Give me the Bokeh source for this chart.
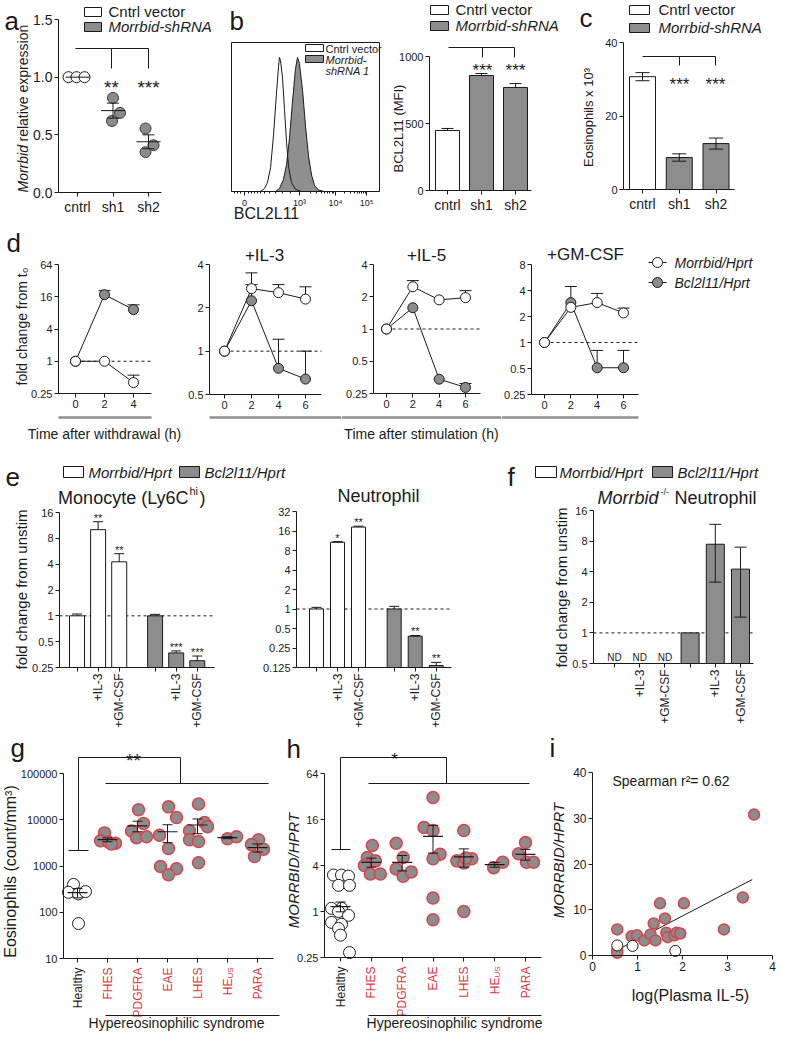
import math
from bokeh.plotting import figure
from bokeh.models import Range1d, FixedTicker, LinearAxis, LogAxis, LogScale
from bokeh.layouts import row, column
from bokeh.embed import file_html
from bokeh.resources import INLINE
from bokeh.core.properties import value

FONT = "Liberation Sans"
INK = "#1a1a1a"
GREY = "#8c8c8c"
RED_TXT = "#e0353d"
RED_EDGE = "#d8434c"
PI2 = math.pi / 2

# ======================= DATA =======================
# (a) Morrbid relative expression
a_groups = ["cntrl", "sh1", "sh2"]
a_points = [[1.0, 1.0, 1.0], [0.82, 0.69, 0.62], [0.555, 0.41, 0.35]]
a_mean = [1.0, 0.71, 0.44]
a_sem = [0.0, 0.065, 0.06]
# (b) flow histogram (x in display units of the biexponential axis, y in % of max)
hist_tick_labels = ["0", "10³", "10⁴", "10⁵"]
hist_cntrl_x = [19.6, 22.3, 24.3, 26.4, 28.4, 30.4, 31.8, 32.4, 33.1, 34.5, 35.8, 37.2, 38.5, 40.5, 43.2, 47.3]
hist_cntrl_y = [0, 2, 6, 16, 38, 66, 84, 90, 88, 76, 55, 33, 17, 6, 1.5, 0]
hist_sh_x = [29.7, 32.4, 35.1, 37.2, 39.2, 41.2, 43.2, 44.6, 45.9, 48.0, 50.0, 52.0, 54.1, 56.1, 58.8, 62.8]
hist_sh_y = [0, 2, 8, 18, 36, 60, 82, 90, 86, 68, 44, 24, 11, 4, 1, 0]
# (b) BCL2L11 MFI
b_groups = ["cntrl", "sh1", "sh2"]
b_mfi = [448, 858, 769]
b_mfi_err = [15, 15, 29]
# (c) eosinophils x 10^3
c_groups = ["cntrl", "sh1", "sh2"]
c_eos = [30.7, 8.7, 12.5]
c_eos_err = [1.1, 1.0, 1.5]
# (d) fold change time courses
d_time_wd = [0, 2, 4]
d_wd_morrbid = [1.0, 1.0, 0.40]
d_wd_morrbid_hi = [1.0, 1.0, 0.55]
d_wd_bcl = [1.0, 17.5, 9.2]
d_wd_bcl_hi = [1.0, 20.8, 11.3]
d_time_st = [0, 2, 4, 6]
d_il3_morrbid = [1.0, 2.72, 2.55, 2.30]
d_il3_morrbid_hi = [1.0, 2.9, 2.9, 2.8]
d_il3_bcl = [1.0, 2.24, 0.76, 0.64]
d_il3_bcl_hi = [1.0, 3.5, 1.21, 1.0]
d_il5_morrbid = [1.0, 2.48, 1.87, 1.96]
d_il5_morrbid_hi = [1.0, 2.83, 1.87, 2.28]
d_il5_bcl = [1.0, 1.58, 0.34, 0.285]
d_il5_bcl_hi = [1.0, 1.58, 0.34, 0.31]
d_gm_morrbid = [1.0, 2.55, 2.9, 2.2]
d_gm_morrbid_hi = [1.0, 2.55, 3.7, 2.5]
d_gm_bcl = [1.0, 2.9, 0.51, 0.51]
d_gm_bcl_hi = [1.0, 4.45, 0.81, 0.81]
# (e) monocyte / neutrophil
e_conditions = ["", "+IL-3", "+GM-CSF"]
e_mono_morrbid = [1.0, 10.1, 4.26]
e_mono_morrbid_hi = [1.05, 12.5, 5.3]
e_mono_bcl = [1.0, 0.37, 0.30]
e_mono_bcl_hi = [1.04, 0.39, 0.34]
e_neut_morrbid = [1.0, 10.7, 18.4]
e_neut_morrbid_hi = [1.06, 11.0, 19.0]
e_neut_bcl = [1.0, 0.38, 0.134]
e_neut_bcl_hi = [1.1, 0.39, 0.15]
e_mono_stars = ["", "**", "**", "", "***", "***"]
e_neut_stars = ["", "*", "**", "", "**", "**"]
# (f) Morrbid-/- neutrophil
f_conditions = ["", "+IL-3", "+GM-CSF"]
f_morrbid_text = ["ND", "ND", "ND"]
f_bcl = [1.0, 7.45, 4.24]
f_bcl_hi = [1.0, 11.7, 6.97]
f_bcl_lo = [1.0, 3.16, 1.43]
# (g) eosinophil counts
g_groups = ["Healthy", "FHES", "PDGFRA", "EAE", "LHES", "HE", "PARA"]
g_subscripts = {5: "US"}
g_vals = [
    [400, 270, 250, 280, 57],
    [5200, 3500, 3300, 3100, 3000],
    [16500, 8300, 5700, 4100, 4300],
    [19000, 11200, 4600, 2400, 980, 870, 650],
    [22000, 8700, 7100, 5800, 3700, 3400, 1180],
    [3900, 4300],
    [3700, 2900, 2300, 1600],
]
g_mean = [265, 3700, 7400, 5500, 7700, 4100, 2500]
g_sem = [60, 350, 1900, 2300, 2700, 200, 500]
# (h) MORRBID/HPRT
h_groups = g_groups
h_vals = [
    [3.0, 3.0, 2.9, 2.2, 2.2, 1.1, 1.1, 1.0, 0.89, 0.72, 0.68, 0.6, 0.49, 0.29],
    [7.3, 5.1, 4.6, 4.0, 3.1, 3.1],
    [7.8, 5.1, 3.6, 2.9, 3.3],
    [31, 12.6, 11.5, 5.6, 4.9, 1.5, 0.78],
    [11.5, 4.9, 4.6, 4.3, 5.0, 1.0],
    [3.75, 4.4],
    [8.0, 5.7, 4.4, 4.4],
]
h_mean = [1.16, 4.4, 4.4, 9.6, 5.2, 4.1, 5.6]
h_sem = [0.17, 0.6, 1.0, 3.8, 1.4, 0.3, 0.9]
# (i) correlation
i_hes_il5 = [3.59, 3.34, 2.92, 1.50, 2.03, 0.55, 0.55, 0.55, 0.87, 0.99, 1.15, 1.29, 1.36, 1.40,
             1.61, 1.64, 1.67, 1.82, 1.87, 1.95]
i_hes_morrbid = [30.8, 12.7, 5.7, 11.4, 11.4, 5.7, 1.1, 0.6, 4.2, 4.4, 3.3, 4.6, 7.0, 3.3,
                 8.1, 5.0, 4.0, 4.4, 5.0, 4.8]
i_healthy_il5 = [0.55, 0.89, 1.84]
i_healthy_morrbid = [2.2, 2.1, 1.0]
i_fit_x = [0.53, 3.55]
i_fit_y = [1.1, 16.6]

# ======================= LAYOUT (jitter in px, positions) =======================
a_jitter_px = [[-9, -1, 7], [0, 7, -1], [-3, 5, -3]]
g_jitter_px = [[-4, -9, 1, 8, 1], [-3, -7, 1, 8, 4], [1, 6, -6, -1, 9],
               [1, 9, -8, 1, -7, 9, 1], [1, 7, 10, -8, -8, 1, 1], [0, 9], [1, -6, 6, -3]]
h_jitter_px = [[-7, 1, 8, -2, 9, -9, 1, -2, 8, -9, 1, -2, 0, 9], [1, -4, 4, -7, -1, 9],
               [-6, 1, -6, 1, 9], [0, -9, 0, 7, 0, 0, 0], [0, 8, -7, 0, 2, 0], [-1, 8], [0, -7, 1, 8]]
e_pos = [0, 1, 2, 3.7, 4.7, 5.7]
f_pos = [0, 1, 2, 3, 4, 5]


class Cal:
    """maps reference-pixel position <-> data value (linear or log)"""
    def __init__(self, pa, va, pb, vb, log=None):
        self.log = log
        self.pa = pa
        self.ta = self._f(va)
        self.k = (self._f(vb) - self.ta) / (pb - pa)

    def _f(self, v):
        return math.log(v, self.log) if self.log else v

    def __call__(self, p):
        t = self.ta + (p - self.pa) * self.k
        return self.log ** t if self.log else t

    def px(self, v):
        return self.pa + (self._f(v) - self.ta) / self.k

    def w(self, npx):
        return abs(self.k) * npx


class Pn:
    def __init__(self, L, T, R, B, xc, yc):
        self.xc, self.yc = xc, yc
        p = figure(width=R - L, height=B - T,
                   x_range=Range1d(xc(L), xc(R)), y_range=Range1d(yc(B), yc(T)),
                   y_axis_type="log" if yc.log else "linear",
                   toolbar_location=None, output_backend="svg", min_border=0)
        if p.title is not None:
            p.title.visible = False
        p.xgrid.visible = False
        p.ygrid.visible = False
        p.outline_line_color = None
        self.p = p

    def text(self, x, y, s, size, align="center", base="middle", angle=0, style="normal", color=INK):
        self.p.text(x=[self.xc(x)], y=[self.yc(y)], text=[s], text_font=value(FONT),
                    text_font_size=f"{size}px", text_align=align, text_baseline=base,
                    angle=angle, text_font_style=style, text_color=color)

    def seg(self, segs, color=INK, width=1.0, dash="solid"):
        self.p.segment(x0=[self.xc(s[0]) for s in segs], y0=[self.yc(s[1]) for s in segs],
                       x1=[self.xc(s[2]) for s in segs], y1=[self.yc(s[3]) for s in segs],
                       line_color=color, line_width=width, line_dash=dash)

    def box(self, x0, y0, x1, y1, fill):
        self.p.quad(left=[self.xc(x0)], right=[self.xc(x1)], top=[self.yc(y0)], bottom=[self.yc(y1)],
                    fill_color=fill, line_color=INK, line_width=1)


def style(ax, loc, bounds, ticks, labels, size, minor=None, orient=None):
    ax.fixed_location = loc
    ax.bounds = bounds
    ax.ticker = FixedTicker(ticks=list(ticks), minor_ticks=list(minor or []))
    ax.major_label_overrides = {t: l for t, l in zip(ticks, labels)}
    ax.axis_line_color = INK
    ax.axis_line_width = 1
    ax.major_tick_line_color = INK
    ax.major_tick_in = 0
    ax.major_tick_out = 4
    ax.minor_tick_line_color = INK if minor else None
    ax.minor_tick_in = 0
    ax.minor_tick_out = 2
    ax.major_label_standoff = 2
    ax.major_label_text_font = FONT
    ax.major_label_text_font_size = f"{size}px"
    ax.major_label_text_color = INK
    if orient is not None:
        ax.major_label_orientation = orient


def whiskers(p, xs, lo, hi, cap, both=False, **kw):
    idx = [i for i in range(len(xs)) if hi[i] > lo[i]]
    X = [xs[i] for i in idx]
    p.segment(x0=X, y0=[lo[i] for i in idx], x1=X, y1=[hi[i] for i in idx], line_color=INK, line_width=1, **kw)
    p.segment(x0=[x - cap for x in X], y0=[hi[i] for i in idx], x1=[x + cap for x in X],
              y1=[hi[i] for i in idx], line_color=INK, line_width=1, **kw)
    if both:
        p.segment(x0=[x - cap for x in X], y0=[lo[i] for i in idx], x1=[x + cap for x in X],
                  y1=[lo[i] for i in idx], line_color=INK, line_width=1, **kw)


# ======================= ROW 1 =======================
# ---- a ----
A = Pn(4, 5, 225, 230, Cal(81, 0, 152, 2), Cal(197, 0, 24, 1.5))
p, xc, yc = A.p, A.xc, A.yc
style(p.yaxis[0], xc(62), (0, 1.5), [0, 0.5, 1, 1.5], ["0.0", "0.5", "1.0", "1.5"], 14)
style(p.xaxis[0], 0, (xc(62), xc(165)), [0, 1, 2], a_groups, 14)
for i, pts in enumerate(a_points):
    xs = [i + xc.w(j) for j in a_jitter_px[i]]
    p.scatter(xs, pts, size=11, marker="circle", fill_color="white" if i == 0 else GREY,
              line_color=INK if i == 0 else "#3a3a3a", line_width=1)
hw, cw = xc.w(12), xc.w(6)
idx = [0, 1, 2]
p.segment(x0=[i - hw for i in idx], y0=a_mean, x1=[i + hw for i in idx], y1=a_mean, line_color=INK)
whiskers(p, idx, [m - s for m, s in zip(a_mean, a_sem)], [m + s for m, s in zip(a_mean, a_sem)], cw, both=True)
A.box(88, 12, 105, 21, "white")
A.box(88, 27, 105, 36, GREY)
A.text(112, 16, "Cntrl vector", 15, align="left")
A.text(112, 31, "Morrbid-shRNA", 15, align="left", style="italic")
A.seg([(79, 53, 152, 53), (115, 53, 115, 73), (152, 53, 152, 73)])
A.text(115, 92, "**", 19, base="alphabetic")
A.text(152, 92, "***", 19, base="alphabetic")
A.text(8, 25, "a", 26, align="left", base="alphabetic")
A.text(26, 197, "Morrbid", 14, align="left", angle=PI2, style="italic")
A.text(26, 146, "relative expression", 14, align="left", angle=PI2)

# ---- b histogram ----
BH = Pn(225, 5, 390, 230, Cal(235, 0, 383, 100), Cal(196, 0, 47, 100))
p, xc, yc = BH.p, BH.xc, BH.yc
ht = [xc(v) for v in (248, 303, 339, 370)]
minor = [xc(v) for v in (238, 241, 244, 252, 255, 258, 261, 264, 268, 273, 279, 286, 294)]
for a_, b_ in ((303, 339), (339, 370)):
    minor += [xc(a_ + (b_ - a_) * math.log10(k)) for k in range(2, 10)]
style(p.xaxis[0], 0, (0, 100), ht, hist_tick_labels, 9, minor)
p.yaxis[0].visible = False
p.varea(x=hist_cntrl_x, y1=[0] * len(hist_cntrl_x), y2=hist_cntrl_y, fill_color="white")
p.varea(x=hist_sh_x, y1=[0] * len(hist_sh_x), y2=hist_sh_y, fill_color="#8f8f8f")
p.line(hist_cntrl_x, hist_cntrl_y, line_color=INK, line_width=1)
p.line(hist_sh_x, hist_sh_y, line_color=INK, line_width=1)
p.quad(left=[0], right=[100], bottom=[0], top=[100], fill_color=None, line_color=INK, line_width=1)
BH.box(309, 49, 327, 56, "white")
BH.box(309, 60, 327, 67, GREY)
BH.text(329, 53, "Cntrl vector", 11, align="left")
BH.text(329, 64, "Morrbid-", 11, align="left", style="italic")
BH.text(329, 75, "shRNA 1", 11, align="left", style="italic")
BH.text(270, 218, "BCL2L11", 16)
BH.text(233, 25, "b", 26, align="left", base="alphabetic")

# ---- b bars ----
BB = Pn(390, 5, 575, 230, Cal(451, 0, 519, 2), Cal(195, 0, 61, 1000))
p, xc, yc = BB.p, BB.xc, BB.yc
style(p.yaxis[0], xc(433), (0, 1000), [0, 500, 1000], ["0", "500", "1000"], 11)
style(p.xaxis[0], 0, (xc(433), xc(535)), [0, 1, 2], b_groups, 14)
p.vbar(x=[0, 1, 2], top=b_mfi, bottom=0, width=xc.w(24), fill_color=["white", GREY, GREY],
       line_color=INK, line_width=1)
whiskers(p, [0, 1, 2], b_mfi, [v + e for v, e in zip(b_mfi, b_mfi_err)], xc.w(6))
BB.box(434, 10, 452, 19, "white")
BB.box(434, 26, 452, 35, GREY)
BB.text(459, 14, "Cntrl vector", 15, align="left")
BB.text(459, 30, "Morrbid-shRNA", 15, align="left", style="italic")
BB.seg([(452, 52, 518, 52), (486, 52, 486, 62), (518, 52, 518, 62)])
BB.text(486, 75, "***", 17, base="alphabetic")
BB.text(519, 75, "***", 17, base="alphabetic")
BB.text(402, 133, "BCL2L11 (MFI)", 13, angle=PI2)

# ---- c ----
C = Pn(575, 5, 781, 230, Cal(646, 0, 719.5, 2), Cal(194, 0, 47, 40))
p, xc, yc = C.p, C.xc, C.yc
style(p.yaxis[0], xc(627), (0, 40), [0, 20, 40], ["0", "20", "40"], 11)
style(p.xaxis[0], 0, (xc(627), xc(738)), [0, 1, 2], c_groups, 14)
p.vbar(x=[0, 1, 2], top=c_eos, bottom=0, width=xc.w(26), fill_color=["white", GREY, GREY],
       line_color=INK, line_width=1)
whiskers(p, [0, 1, 2], [v - e for v, e in zip(c_eos, c_eos_err)], [v + e for v, e in zip(c_eos, c_eos_err)],
         xc.w(7), both=True)
C.box(633, 10, 653, 19, "white")
C.box(633, 28, 653, 37, GREY)
C.text(662, 14, "Cntrl vector", 15, align="left")
C.text(662, 32, "Morrbid-shRNA", 15, align="left", style="italic")
C.seg([(646, 61, 719, 61), (683, 61, 683, 70), (719, 61, 719, 70)])
C.text(683, 89, "***", 17, base="alphabetic")
C.text(719, 89, "***", 17, base="alphabetic")
C.text(592, 122, "Eosinophils x 10³", 13, angle=PI2)
C.text(583, 22, "c", 26, align="left", base="alphabetic")

# ======================= ROW 2 (d) =======================
def draw_d(P, t, morr, morr_hi, bcl, bcl_hi, dash_end_px):
    p, xc = P.p, P.xc
    p.segment(x0=[0], y0=[1], x1=[xc(dash_end_px)], y1=[1], line_color=INK, line_width=1, line_dash="3 3")
    cap = xc.w(6)
    whiskers(p, t, bcl, bcl_hi, cap)
    whiskers(p, t, morr, morr_hi, cap)
    p.line(t, bcl, line_color=INK, line_width=1)
    p.line(t, morr, line_color=INK, line_width=1)
    p.scatter(t, bcl, size=10, marker="circle", fill_color=GREY, line_color=INK, line_width=1)
    p.scatter(t, morr, size=10, marker="circle", fill_color="white", line_color=INK, line_width=1)


def fmt(v):
    return ("%g" % v)


D1 = Pn(4, 230, 185, 455, Cal(79, 0, 137, 4), Cal(398, 0.25, 269, 64, log=2))
yt = [0.25, 1, 4, 16, 64]
style(D1.p.yaxis[0], D1.xc(62), (0.25, 64), yt, [fmt(v) for v in yt], 11)
style(D1.p.xaxis[0], 0.25, (D1.xc(62), D1.xc(155)), d_time_wd, [str(v) for v in d_time_wd], 11)
draw_d(D1, d_time_wd, d_wd_morrbid, d_wd_morrbid_hi, d_wd_bcl, d_wd_bcl_hi, 155)
D1.seg([(62, 422, 155, 422)], color="#8f8f8f", width=2.5)
D1.text(108, 438, "Time after withdrawal (h)", 14)
D1.text(25, 331, "fold change from t₀", 14, angle=PI2)
D1.text(10, 247, "d", 26, align="left", base="alphabetic")

D2 = Pn(185, 230, 345, 455, Cal(228, 0, 309, 6), Cal(399, 0.5, 269, 4, log=2))
yt = [0.5, 1, 2, 4]
style(D2.p.yaxis[0], D2.xc(213), (0.5, 4), yt, [fmt(v) for v in yt], 11)
style(D2.p.xaxis[0], 0.5, (D2.xc(213), D2.xc(325)), d_time_st, [str(v) for v in d_time_st], 11)
draw_d(D2, d_time_st, d_il3_morrbid, d_il3_morrbid_hi, d_il3_bcl, d_il3_bcl_hi, 325)
D2.seg([(213, 422, 345, 422)], color="#8f8f8f", width=2.5)
D2.text(268, 260, "+IL-3", 17)

D3 = Pn(345, 230, 505, 455, Cal(390, 0, 469, 6), Cal(398, 0.25, 269, 4, log=2))
yt = [0.25, 0.5, 1, 2, 4]
style(D3.p.yaxis[0], D3.xc(377), (0.25, 4), yt, [fmt(v) for v in yt], 11)
style(D3.p.xaxis[0], 0.25, (D3.xc(377), D3.xc(484)), d_time_st, [str(v) for v in d_time_st], 11)
draw_d(D3, d_time_st, d_il5_morrbid, d_il5_morrbid_hi, d_il5_bcl, d_il5_bcl_hi, 484)
D3.seg([(345, 422, 505, 422)], color="#8f8f8f", width=2.5)
D3.text(430, 260, "+IL-5", 17)
D3.text(425, 438, "Time after stimulation (h)", 14)

D4 = Pn(505, 230, 781, 455, Cal(548, 0, 627, 6), Cal(399, 0.25, 269, 8, log=2))
yt = [0.25, 0.5, 1, 2, 4, 8]
style(D4.p.yaxis[0], D4.xc(535), (0.25, 8), yt, [fmt(v) for v in yt], 11)
style(D4.p.xaxis[0], 0.25, (D4.xc(535), D4.xc(642)), d_time_st, [str(v) for v in d_time_st], 11)
draw_d(D4, d_time_st, d_gm_morrbid, d_gm_morrbid_hi, d_gm_bcl, d_gm_bcl_hi, 642)
D4.seg([(505, 422, 642, 422)], color="#8f8f8f", width=2.5)
D4.text(589, 259, "+GM-CSF", 17)
D4.seg([(652, 267, 670, 267), (652, 287, 670, 287)])
D4.p.scatter([D4.xc(661)], [D4.yc(267)], size=10, marker="circle", fill_color="white", line_color=INK)
D4.p.scatter([D4.xc(661)], [D4.yc(287)], size=10, marker="circle", fill_color=GREY, line_color=INK)
D4.text(678, 267, "Morrbid/Hprt", 14, align="left", style="italic")
D4.text(678, 287, "Bcl2l11/Hprt", 14, align="left", style="italic")

# ======================= ROW 3 (e, f) =======================
E = Pn(4, 455, 505, 737, Cal(80.5, 0, 200.8, 5.7), Cal(672, 0.25, 517, 16, log=2))
p, xc, yc = E.p, E.xc, E.yc
xn = Cal(320, 0, 439.7, 5.7)
yn = Cal(672, 0.125, 516, 32, log=2)
p.extra_x_ranges = {"neut": Range1d(xn(4), xn(505))}
p.extra_y_ranges = {"neut": Range1d(yn(737), yn(455))}
p.extra_y_scales = {"neut": LogScale()}
NR = dict(x_range_name="neut", y_range_name="neut")
cond_labels = e_conditions * 2
yt = [0.25, 0.5, 1, 2, 4, 8, 16]
style(p.yaxis[0], xc(63), (0.25, 16), yt, [fmt(v) for v in yt], 11)
style(p.xaxis[0], 0.25, (xc(63), xc(218)), e_pos, cond_labels, 12, orient=PI2)
ayn = LogAxis(**NR)
p.add_layout(ayn, "left")
yt = [0.125, 0.25, 0.5, 1, 2, 4, 8, 16, 32]
style(ayn, xn(300), (0.125, 32), yt, [fmt(v) for v in yt], 11)
axn = LinearAxis(**NR)
p.add_layout(axn, "below")
style(axn, 0.125, (xn(300), xn(455)), e_pos, cond_labels, 12, orient=PI2)
fills = ["white"] * 3 + [GREY] * 3
mono_top = e_mono_morrbid + e_mono_bcl
mono_hi = e_mono_morrbid_hi + e_mono_bcl_hi
neut_top = e_neut_morrbid + e_neut_bcl
neut_hi = e_neut_morrbid_hi + e_neut_bcl_hi
p.segment(x0=[xc(63)], y0=[1], x1=[xc(218)], y1=[1], line_color=INK, line_dash="3 3")
p.segment(x0=[xn(300)], y0=[1], x1=[xn(455)], y1=[1], line_color=INK, line_dash="3 3", **NR)
p.vbar(x=e_pos, top=mono_top, bottom=0.25, width=xc.w(15), fill_color=fills, line_color=INK, line_width=1)
p.vbar(x=e_pos, top=neut_top, bottom=0.125, width=xn.w(14), fill_color=fills, line_color=INK, line_width=1, **NR)
whiskers(p, e_pos, mono_top, mono_hi, xc.w(5))
whiskers(p, e_pos, neut_top, neut_hi, xn.w(5), **NR)
p.text(x=e_pos, y=[yc(yc.px(h) - 4) for h in mono_hi], text=e_mono_stars, text_font=value(FONT),
       text_font_size="11px", text_align="center", text_baseline="alphabetic", text_color=INK)
p.text(x=e_pos, y=[yn(yn.px(h) - 4) for h in neut_hi], text=e_neut_stars, text_font=value(FONT),
       text_font_size="11px", text_align="center", text_baseline="alphabetic", text_color=INK, **NR)
E.box(67, 471, 87, 482, "white")
E.box(183, 471, 203, 482, GREY)
E.text(92, 477, "Morrbid/Hprt", 15, align="left", style="italic")
E.text(208, 477, "Bcl2l11/Hprt", 15, align="left", style="italic")
E.text(192, 502, "Monocyte (Ly6C", 18, align="right")
E.text(193, 495, "hi", 11, align="left")
E.text(203, 502, ")", 18, align="left")
E.text(382, 500, "Neutrophil", 18)
E.text(25, 594, "fold change from unstim", 15, angle=PI2)
E.text(9, 481, "e", 26, align="left", base="alphabetic")

F = Pn(505, 455, 781, 737, Cal(618, 0, 744, 5), Cal(668, 0.5, 515, 16, log=2))
p, xc, yc = F.p, F.xc, F.yc
yt = [0.5, 1, 2, 4, 8, 16]
style(p.yaxis[0], xc(597), (0.5, 16), yt, [fmt(v) for v in yt], 11)
style(p.xaxis[0], 0.5, (xc(597), xc(757)), f_pos, f_conditions * 2, 12, orient=PI2)
p.segment(x0=[xc(597)], y0=[1], x1=[xc(757)], y1=[1], line_color=INK, line_dash="3 3")
p.vbar(x=f_pos[3:], top=f_bcl, bottom=0.5, width=xc.w(18), fill_color=GREY, line_color=INK, line_width=1)
whiskers(p, f_pos[3:], f_bcl_lo, f_bcl_hi, xc.w(6), both=True)
p.text(x=f_pos[:3], y=[yc(662)] * 3, text=f_morrbid_text, text_font=value(FONT), text_font_size="10px",
       text_align="center", text_baseline="middle", text_color=INK)
F.box(539, 471, 560, 482, "white")
F.box(656, 471, 676, 482, GREY)
F.text(563, 477, "Morrbid/Hprt", 15, align="left", style="italic")
F.text(681, 477, "Bcl2l11/Hprt", 15, align="left", style="italic")
F.text(662, 502, "Morrbid", 18, align="right", style="italic")
F.text(664, 496, "-/-", 9, align="left")
F.text(678, 502, "Neutrophil", 18, align="left")
F.text(565, 592, "fold change from unstim", 15, angle=PI2)
F.text(511, 481, "f", 26, align="left", base="alphabetic")

# ======================= ROW 4 (g, h, i) =======================
def draw_groups(P, vals, jitter, means, sems, hw_px, cap_px):
    p, xc = P.p, P.xc
    for i, vs in enumerate(vals):
        xs = [i + xc.w(j) for j in jitter[i]]
        if i == 0:
            p.scatter(xs, vs, size=12, marker="circle", fill_color="white", line_color=INK, line_width=1)
        else:
            p.scatter(xs, vs, size=12, marker="circle", fill_color=GREY, line_color=RED_EDGE, line_width=1.5)
    n = list(range(len(vals)))
    hw = xc.w(hw_px)
    p.segment(x0=[i - hw for i in n], y0=means, x1=[i + hw for i in n], y1=means, line_color=INK, line_width=1.2)
    whiskers(p, n, [m - s for m, s in zip(means, sems)], [m + s for m, s in zip(means, sems)], xc.w(cap_px), both=True)


def cat_labels(P, groups, top_px):
    p, xc, yc = P.p, P.xc, P.yc
    for i, g in enumerate(groups):
        col = INK if i == 0 else RED_TXT
        if i in g_subscripts:
            p.text(x=[i], y=[yc(top_px + 11)], text=[g], text_font=value(FONT), text_font_size="12px",
                   text_align="right", text_baseline="middle", angle=PI2, text_color=col)
            p.text(x=[i + xc.w(3)], y=[yc(top_px)], text=[g_subscripts[i]], text_font=value(FONT),
                   text_font_size="8px", text_align="right", text_baseline="middle", angle=PI2, text_color=col)
        else:
            p.text(x=[i], y=[yc(top_px)], text=[g], text_font=value(FONT), text_font_size="12px",
                   text_align="right", text_baseline="middle", angle=PI2, text_color=col)


G = Pn(4, 737, 285, 1037, Cal(81, 0, 261, 6), Cal(963, 10, 778, 100000, log=10))
p, xc, yc = G.p, G.xc, G.yc
yt = [10, 100, 1000, 10000, 100000]
style(p.yaxis[0], xc(67), (10, 100000), yt, [str(v) for v in yt], 11)
style(p.xaxis[0], 10, (xc(67), xc(277)), list(range(7)), [""] * 7, 11)
draw_groups(G, g_vals, g_jitter_px, g_mean, g_sem, 10, 5)
cat_labels(G, g_groups, 972)
G.seg([(82, 762, 184, 762), (82, 762, 82, 855), (72, 855, 92, 855), (184, 762, 184, 788), (109, 788, 272, 788)])
G.text(137, 765, "**", 19, base="alphabetic")
G.seg([(109, 1020, 283, 1020)])
G.text(180, 1027, "Hypereosinophilic syndrome", 14)
G.text(14, 876, "Eosinophils (count/mm³)", 16, angle=PI2)
G.text(14, 752, "g", 26, align="left", base="alphabetic")

H = Pn(285, 737, 552, 1037, Cal(344, 0, 529, 6), Cal(962, 0.25, 778, 64, log=2))
p, xc, yc = H.p, H.xc, H.yc
yt = [0.25, 1, 4, 16, 64]
style(p.yaxis[0], xc(328), (0.25, 64), yt, [fmt(v) for v in yt], 11)
style(p.xaxis[0], 0.25, (xc(328), xc(545)), list(range(7)), [""] * 7, 11)
draw_groups(H, h_vals, h_jitter_px, h_mean, h_sem, 10, 5)
cat_labels(H, h_groups, 971)
H.seg([(344, 762, 450, 762), (344, 762, 344, 854), (335, 854, 354, 854), (450, 762, 450, 788), (372, 788, 533, 788)])
H.text(398, 764, "*", 17, base="alphabetic")
H.seg([(372, 1020, 545, 1020)])
H.text(458, 1027, "Hypereosinophilic syndrome", 14)
H.text(297, 875, "MORRBID/HPRT", 15, angle=PI2, style="italic")
H.text(290, 753, "h", 26, align="left", base="alphabetic")

I = Pn(552, 737, 781, 1037, Cal(596, 0, 776, 4), Cal(960, 0, 777, 40))
p, xc, yc = I.p, I.xc, I.yc
style(p.yaxis[0], 0, (0, 40), [0, 10, 20, 30, 40], ["0", "10", "20", "30", "40"], 12)
style(p.xaxis[0], 0, (0, 4), [0, 1, 2, 3, 4], ["0", "1", "2", "3", "4"], 12)
p.line(i_fit_x, i_fit_y, line_color=INK, line_width=1)
p.scatter(i_hes_il5, i_hes_morrbid, size=11, marker="circle", fill_color=GREY, line_color=RED_EDGE, line_width=1.5)
p.scatter(i_healthy_il5, i_healthy_morrbid, size=11, marker="circle", fill_color="white", line_color=INK, line_width=1)
I.text(616, 785, "Spearman r²= 0.62", 14, align="left")
I.text(694, 1000, "log(Plasma IL-5)", 16)
I.text(562, 865, "MORRBID/HPRT", 15, angle=PI2, style="italic")
I.text(553, 752, "i", 26, align="left", base="alphabetic")

layout = column(
    row(A.p, BH.p, BB.p, C.p),
    row(D1.p, D2.p, D3.p, D4.p),
    row(E.p, F.p),
    row(G.p, H.p, I.p),
)
open("out.html", "w").write(file_html(layout, INLINE, "figure"))
